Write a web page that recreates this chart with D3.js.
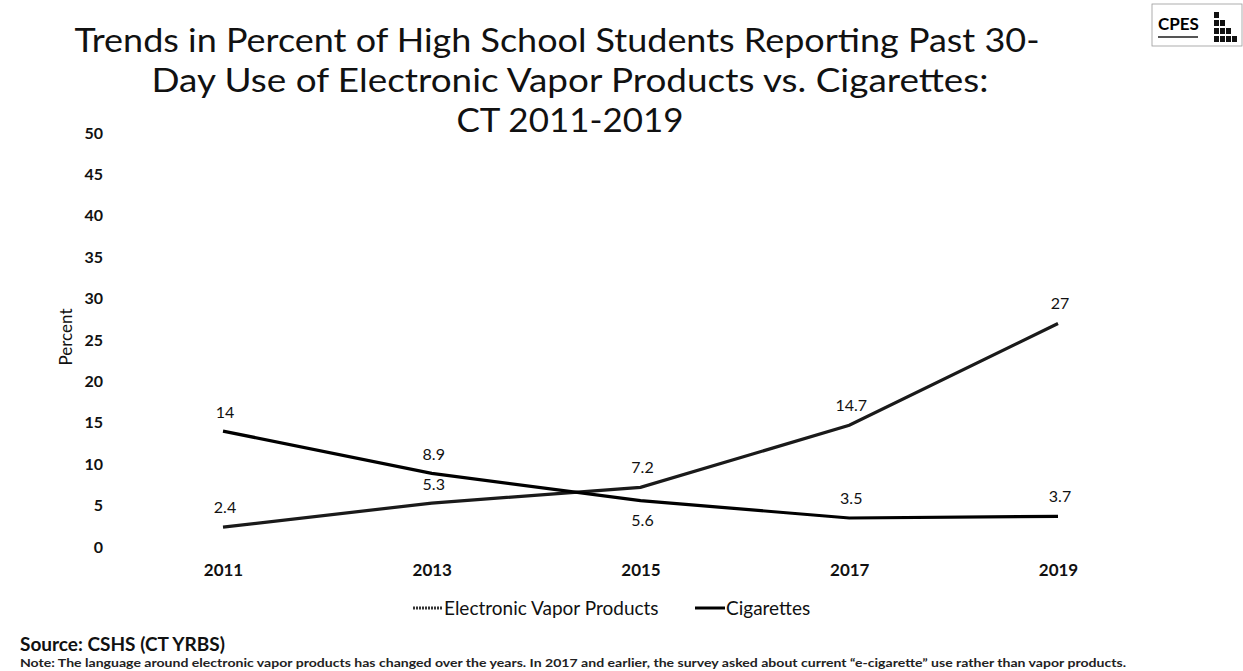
<!DOCTYPE html>
<html>
<head>
<meta charset="utf-8">
<script src="https://cdn.jsdelivr.net/npm/d3@7"></script>
<style>
  body { margin: 0; background: #fff; }
  svg { display: block; font-family: Lato, "Open Sans", sans-serif; }
</style>
</head>
<body>
<div id="chart"></div>
<script>
// Data
const years = ["2011", "2013", "2015", "2017", "2019"];
const vaporValues = [2.4, 5.3, 7.2, 14.7, 27];
const cigaretteValues = [14, 8.9, 5.6, 3.5, 3.7];
const yTicks = [0, 5, 10, 15, 20, 25, 30, 35, 40, 45, 50];
const titleLines = [
    "Trends in Percent of High School Students Reporting Past 30-",
    "Day Use of Electronic Vapor Products vs. Cigarettes:",
    "CT 2011-2019"
];
const seriesNames = ["Electronic Vapor Products", "Cigarettes"];

const svgWidth = 1243, svgHeight = 671;
const margin = {left: 223, right: 185, top: 133, bottom: 124};

let svg = d3.select("#chart")
            .append("svg")
            .attr("width", svgWidth)
            .attr("height", svgHeight);

svg.append("rect")
    .attr("width", svgWidth)
    .attr("height", svgHeight)
    .attr("fill", "#fff");

// title - first line sits a little left of the others
const titleCenters = [557, 570, 570];
const titleWidths = [965, 837, 227];
svg.append("g")
    .selectAll("text")
    .data(titleLines)
    .enter()
    .append("text")
        .attr("x", (d, i) => titleCenters[i])
        .attr("y", (d, i) => 52 + i * 40)
        .attr("text-anchor", "middle")
        .attr("textLength", (d, i) => titleWidths[i])
        .attr("lengthAdjust", "spacingAndGlyphs")
        .style("font-size", "33px")
        .attr("fill", "#111")
        .text(d => d);

let x = d3.scalePoint()
            .domain(years)
            .range([margin.left, svgWidth - margin.right]);
let y = d3.scaleLinear()
            .domain([0, 50])
            .range([svgHeight - margin.bottom, margin.top]);

// y axis: labels only, no line
let yAxis = d3.axisLeft(y).tickValues(yTicks).tickSize(0).tickPadding(0);
let yg = svg.append("g")
    .attr("transform", "translate(103,0)")
    .call(yAxis);
yg.select(".domain").remove();
yg.selectAll("text")
    .style("font-size", "16px")
    .style("font-family", "Lato, sans-serif")
    .style("font-weight", "bold")
    .attr("fill", "#111");

// x axis labels
let xAxis = d3.axisBottom(x).tickSize(0).tickPadding(0);
let xg = svg.append("g")
    .attr("transform", "translate(0,564)")
    .call(xAxis);
xg.select(".domain").remove();
xg.selectAll("text")
    .style("font-size", "17px")
    .style("font-family", "Lato, sans-serif")
    .style("font-weight", "bold")
    .attr("fill", "#111");

svg.append("text")
    .attr("transform", "translate(72,337) rotate(-90)")
    .attr("text-anchor", "middle")
    .style("font-size", "17px")
    .attr("fill", "#111")
    .text("Percent");

let line = d3.line()
    .x((d, i) => x(years[i]))
    .y(d => y(d));

svg.append("path")
    .datum(vaporValues)
    .attr("d", line)
    .attr("fill", "none")
    .attr("stroke", "#1a1a1a")
    .attr("stroke-width", 3.2);

svg.append("path")
    .datum(cigaretteValues)
    .attr("d", line)
    .attr("fill", "none")
    .attr("stroke", "#000")
    .attr("stroke-width", 3.2);

// data labels: baseline offset above (-) or below (+) the point
const vaporOffsets = [-14, -13, -14, -14, -14];
const cigaretteOffsets = [-13, -13, 25, -14, -14];

function add_labels(values, offsets) {
    svg.append("g")
        .selectAll("text")
        .data(values)
        .enter()
        .append("text")
            .attr("x", (d, i) => x(years[i]) + 2)
            .attr("y", (d, i) => y(d) + offsets[i])
            .attr("text-anchor", "middle")
            .style("font-size", "16px")
            .attr("fill", "#111")
            .text(d => d);
}
add_labels(vaporValues, vaporOffsets);
add_labels(cigaretteValues, cigaretteOffsets);

// legend
let legend = svg.append("g").attr("transform", "translate(413,608)");
const legendX = [0, 282];
seriesNames.forEach((name, i) => {
    legend.append("line")
        .attr("x1", legendX[i])
        .attr("x2", legendX[i] + 30)
        .attr("y1", 0)
        .attr("y2", 0)
        .attr("stroke", i == 0 ? "#333" : "#000")
        .attr("stroke-width", 3)
        .attr("stroke-dasharray", i == 0 ? "2,1" : null);
    legend.append("text")
        .attr("x", legendX[i] + 31)
        .attr("y", 7)
        .style("font-size", "19px")
        .attr("fill", "#111")
        .text(name);
});

// source and note
svg.append("text")
    .attr("x", 20)
    .attr("y", 651)
    .style("font-size", "19px")
    .style("font-weight", "bold")
    .attr("fill", "#111")
    .text("Source: CSHS (CT YRBS)");

svg.append("text")
    .attr("x", 20)
    .attr("y", 667)
    .attr("textLength", 1106)
    .attr("lengthAdjust", "spacingAndGlyphs")
    .style("font-size", "12px")
    .style("font-weight", "bold")
    .attr("fill", "#222")
    .text("Note: The language around electronic vapor products has changed over the years. In 2017 and earlier, the survey asked about current \u201ce-cigarette\u201d use rather than vapor products.");

// CPES logo, top right
let logo = svg.append("g").attr("transform", "translate(1152,4)");
logo.append("rect")
    .attr("width", 90)
    .attr("height", 42)
    .attr("fill", "#fff")
    .attr("stroke", "#999")
    .attr("stroke-width", 0.8);
logo.append("text")
    .attr("x", 6)
    .attr("y", 26)
    .style("font-size", "17px")
    .style("font-weight", "bold")
    .attr("fill", "#000")
    .text("CPES");
logo.append("rect")
    .attr("x", 6).attr("y", 32).attr("width", 40).attr("height", 2).attr("fill", "#555");
const logoBlocks = [[62, 8], [62, 16], [68, 16], [62, 24], [68, 24], [74, 24], [62, 32], [68, 32], [74, 32], [80, 32]];
logo.append("g")
    .selectAll("rect")
    .data(logoBlocks)
    .enter()
    .append("rect")
        .attr("x", d => d[0])
        .attr("y", d => d[1])
        .attr("width", 5)
        .attr("height", 6)
        .attr("fill", "#111");
</script>
</body>
</html>
